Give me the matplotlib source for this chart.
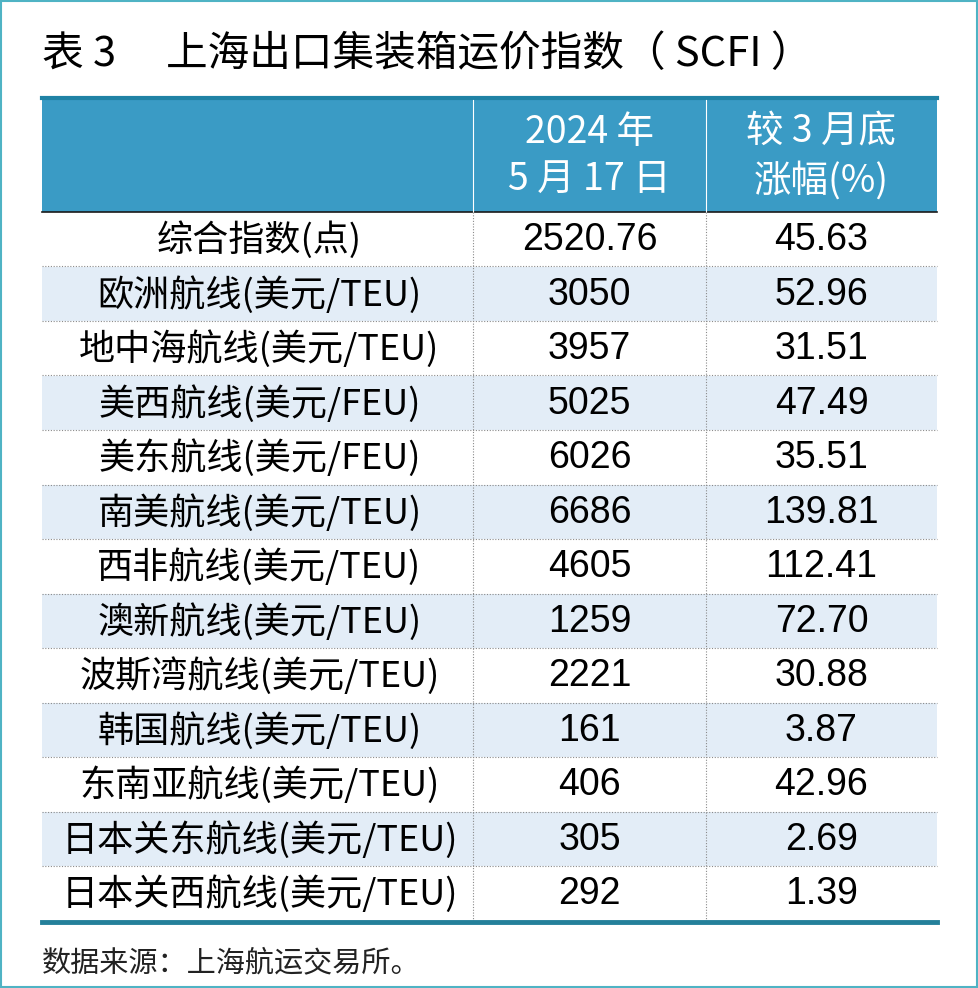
import matplotlib.pyplot as plt
from matplotlib.patches import Rectangle

plt.rcParams['font.family'] = ['Noto Sans CJK SC', 'DejaVu Sans']

# table data
title_no = '表 3'
title = '上海出口集装箱运价指数（ SCFI ）'
col_heads = ['2024 年\n5 月 17 日', '较 3 月底\n涨幅(%)']
routes = ['综合指数(点)', '欧洲航线(美元/TEU)', '地中海航线(美元/TEU)', '美西航线(美元/FEU)',
          '美东航线(美元/FEU)', '南美航线(美元/TEU)', '西非航线(美元/TEU)', '澳新航线(美元/TEU)',
          '波斯湾航线(美元/TEU)', '韩国航线(美元/TEU)', '东南亚航线(美元/TEU)',
          '日本关东航线(美元/TEU)', '日本关西航线(美元/TEU)']
index_may17 = [2520.76, 3050, 3957, 5025, 6026, 6686, 4605, 1259, 2221, 161, 406, 305, 292]
change_pct = [45.63, 52.96, 31.51, 47.49, 35.51, 139.81, 112.41, 72.70, 30.88, 3.87, 42.96, 2.69, 1.39]
source = '数据来源：上海航运交易所。'

W, H = 979, 988
fig = plt.figure(figsize=(W / 100, H / 100), dpi=100)
ax = fig.add_axes([0, 0, 1, 1])
ax.set_xlim(0, W)
ax.set_ylim(H, 0)
ax.axis('off')

# outer frame
ax.add_patch(Rectangle((1.5, 1.5), W - 3, H - 3, fill=False, ec='#4fb3c4', lw=1.5))

left, right = 42, 937
cols = [left, 473, 706, right]
head_top, head_bot = 97, 212
row_h = 54.5
nrows = len(routes)
bottom = head_bot + nrows * row_h
num_font = ['Liberation Sans', 'DejaVu Sans']

# title
ax.text(left, 55, title_no, fontsize=30, va='center', ha='left', fontweight='medium')
ax.text(166, 55, title, fontsize=30, va='center', ha='left', fontweight='medium')

# header
ax.add_patch(Rectangle((left, head_top), right - left, head_bot - head_top, color='#3a9bc5', lw=0))
ax.plot([left, right], [head_top + 1.5, head_top + 1.5], color='#1f82a5', lw=3)
ax.plot([left, right], [head_bot, head_bot], color='#1a1a1a', lw=1.2)
for x in cols[1:3]:
    ax.plot([x, x], [head_top + 3, head_bot], color='white', lw=0.8)
for i, h in enumerate(col_heads):
    ax.text((cols[i + 1] + cols[i + 2]) / 2, (head_top + head_bot) / 2 + 2, h, color='white',
            fontsize=27, ha='center', va='center', linespacing=1.32)

# body rows
for i in range(nrows):
    y0 = head_bot + i * row_h
    if i % 2 == 1:
        ax.add_patch(Rectangle((left, y0), right - left, row_h, color='#e3edf7', lw=0))
    if i > 0:
        ax.plot([left, right], [y0, y0], color='#8a8a8a', lw=0.8, ls=(0, (1, 1.5)))
    yc = y0 + row_h / 2 + 1
    ax.text((cols[0] + cols[1]) / 2 + 2, yc, routes[i], fontsize=26, ha='center', va='center')
    ax.text((cols[1] + cols[2]) / 2, yc, '{:g}'.format(index_may17[i]), fontsize=27,
            ha='center', va='center', family=num_font)
    ax.text((cols[2] + cols[3]) / 2, yc, '{:.2f}'.format(change_pct[i]), fontsize=27,
            ha='center', va='center', family=num_font)

for x in cols[1:3]:
    ax.plot([x, x], [head_bot, bottom], color='#8a8a8a', lw=0.8, ls=(0, (1, 1.5)))

ax.plot([left, right], [bottom + 1.5, bottom + 1.5], color='#24809a', lw=3.5)

ax.text(left, 963, source, fontsize=21, ha='left', va='center', color='#222222')

fig.savefig('out.png', dpi=100, facecolor='white')
